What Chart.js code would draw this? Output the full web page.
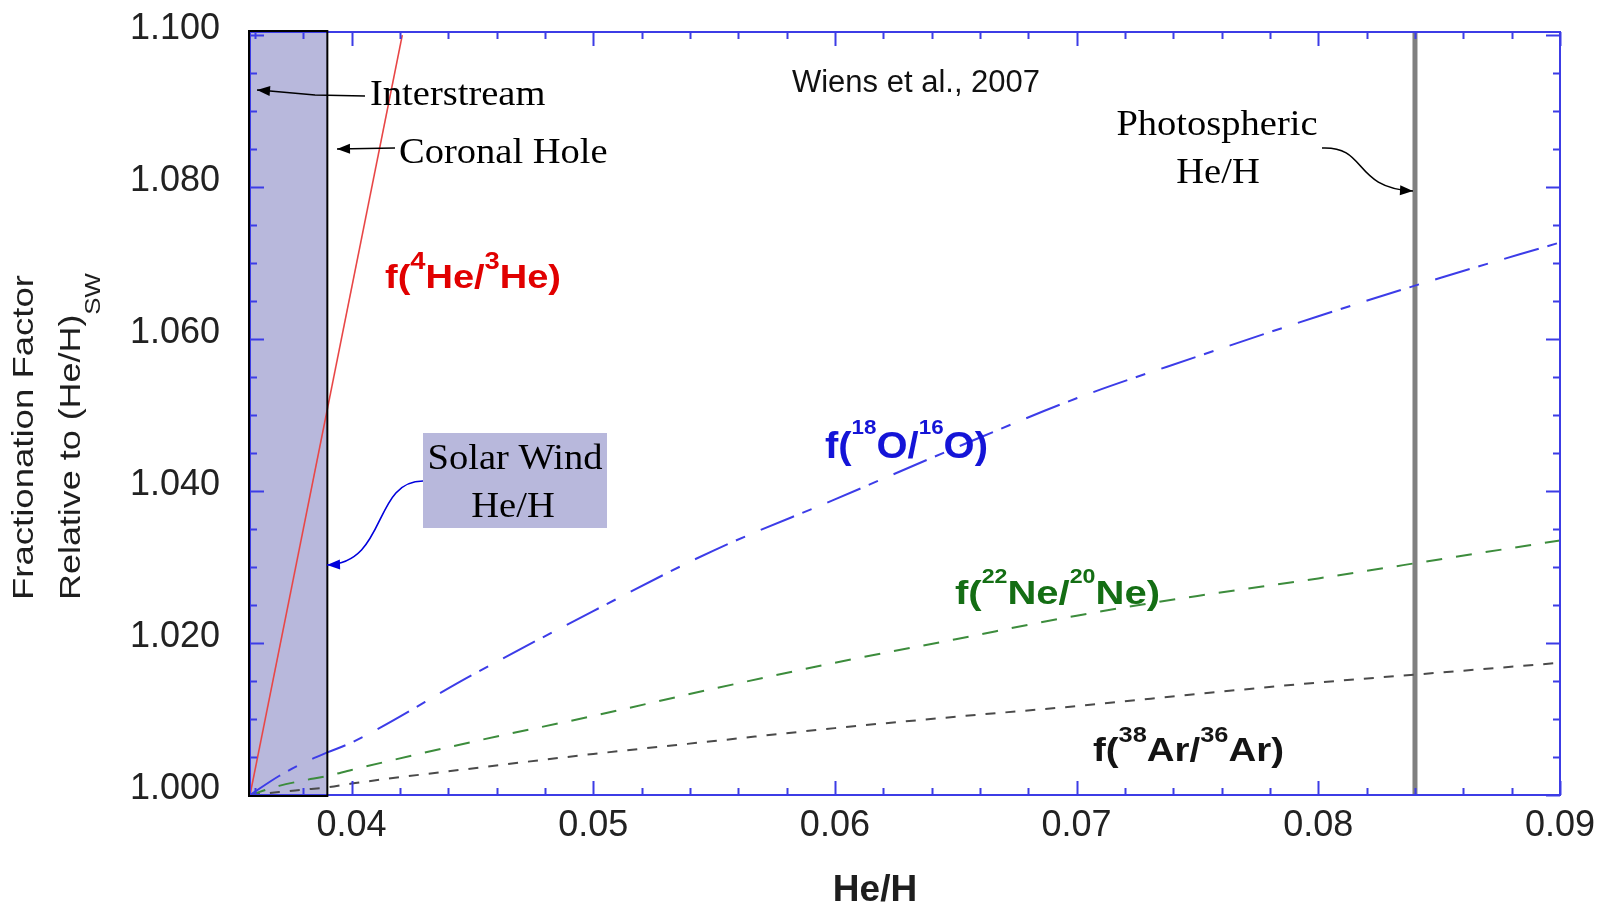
<!DOCTYPE html>
<html>
<head>
<meta charset="utf-8">
<title>Fractionation factor vs He/H</title>
<script src="https://cdn.jsdelivr.net/npm/chart.js@4.4.1/dist/chart.umd.min.js"></script>
<style>
  html, body { margin: 0; padding: 0; background: #fff; }
  canvas { display: block; }
</style>
</head>
<body>
<canvas id="chart" width="1604" height="904"></canvas>
<script>
'use strict';
/*------------------------------------*\
     Values
\*------------------------------------*/
var heH = [0.0358, 0.037, 0.038, 0.039, 0.040, 0.045, 0.050, 0.055, 0.060, 0.065, 0.070, 0.075, 0.080, 0.085, 0.090];
var fO = [1.0000, 1.0025, 1.0042, 1.0056, 1.0069, 1.0158, 1.0242, 1.0322, 1.0389, 1.0457, 1.0522, 1.0577, 1.0630, 1.0680, 1.0727];
var fNe = [1.0000, 1.0012, 1.0019, 1.0025, 1.0033, 1.0070, 1.0104, 1.0140, 1.0174, 1.0205, 1.0236, 1.0262, 1.0285, 1.0310, 1.0335];
var fAr = [1.0000, 1.0004, 1.0007, 1.0010, 1.0015, 1.0035, 1.0054, 1.0071, 1.0088, 1.0103, 1.0117, 1.0133, 1.0148, 1.0161, 1.0174];
var heHRed = [0.0358, 0.0421];
var fHe = [1.000, 1.100];

var xTicks = [0.04, 0.05, 0.06, 0.07, 0.08, 0.09];
var yTicks = [1.00, 1.02, 1.04, 1.06, 1.08, 1.10];

var solarWindRange = [0.0358, 0.039]; // shaded band
var photosphericHeH = 0.084;

/*------------------------------------*\
     Helpers
\*------------------------------------*/
function points(xs, ys) {
  return xs.map(function(x, i) { return {x: x, y: ys[i]}; });
}

// text with superscripts / subscripts, optionally stretched along its direction
function drawRich(ctx, parts, x, y, o) {
  var size = o.size;
  var family = o.family || 'Liberation Sans';
  var weight = o.weight || 'normal';
  var fonts = parts.map(function(p) {
    var s = p[1] ? size * (o.script || 0.6) : size;
    return weight + ' ' + s + 'px "' + family + '"';
  });
  var widths = parts.map(function(p, i) {
    ctx.font = fonts[i];
    return ctx.measureText(p[0]).width;
  });
  var natural = widths.reduce(function(a, b) { return a + b; }, 0);
  var sx = o.width ? o.width / natural : (o.stretch || 1);
  ctx.save();
  ctx.translate(x, y);
  if (o.rotate) ctx.rotate(o.rotate);
  ctx.scale(sx, 1);
  ctx.fillStyle = o.color || '#000';
  ctx.textBaseline = 'alphabetic';
  ctx.textAlign = 'left';
  var cx = o.align === 'center' ? -natural / 2 : 0;
  parts.forEach(function(p, i) {
    ctx.font = fonts[i];
    var dy = 0;
    if (p[1] === 'sup') dy = -size * (o.raise || 0.6);
    if (p[1] === 'sub') dy = size * (o.lower || 0.3);
    ctx.fillText(p[0], cx, dy);
    cx += widths[i];
  });
  ctx.restore();
}

// path is a polyline, or a bezier [start, cp1, cp2, tip] when curve is set
function drawArrow(ctx, path, color, curve) {
  var tip = path[path.length - 1];
  var prev = path[path.length - 2];
  var ang = Math.atan2(tip[1] - prev[1], tip[0] - prev[0]);
  ctx.save();
  ctx.strokeStyle = color;
  ctx.fillStyle = color;
  ctx.lineWidth = 1.6;
  ctx.beginPath();
  ctx.moveTo(path[0][0], path[0][1]);
  if (curve) {
    ctx.bezierCurveTo(path[1][0], path[1][1], path[2][0], path[2][1], tip[0], tip[1]);
  } else {
    for (var i = 1; i < path.length; i++) ctx.lineTo(path[i][0], path[i][1]);
  }
  ctx.stroke();
  ctx.beginPath();
  ctx.moveTo(tip[0], tip[1]);
  ctx.lineTo(tip[0] - 13 * Math.cos(ang) + 5 * Math.sin(ang), tip[1] - 13 * Math.sin(ang) - 5 * Math.cos(ang));
  ctx.lineTo(tip[0] - 13 * Math.cos(ang) - 5 * Math.sin(ang), tip[1] - 13 * Math.sin(ang) + 5 * Math.cos(ang));
  ctx.closePath();
  ctx.fill();
  ctx.restore();
}

/*------------------------------------*\
     Background marks (band, photospheric line)
\*------------------------------------*/
var backdrop = {
  id: 'backdrop',
  beforeDatasetsDraw: function(chart) {
    var ctx = chart.ctx, a = chart.chartArea;
    var xs = chart.scales.x;
    var x0 = xs.getPixelForValue(solarWindRange[0]);
    var x1 = xs.getPixelForValue(solarWindRange[1]);
    ctx.save();
    ctx.fillStyle = '#b8b8dc';
    ctx.fillRect(x0, a.top, x1 - x0, a.bottom - a.top);
    var xp = xs.getPixelForValue(photosphericHeH);
    ctx.strokeStyle = '#808080';
    ctx.lineWidth = 5;
    ctx.beginPath();
    ctx.moveTo(xp, a.top);
    ctx.lineTo(xp, a.bottom);
    ctx.stroke();
    ctx.restore();
  }
};

/*------------------------------------*\
     Frame, inner ticks, annotations
\*------------------------------------*/
var overlay = {
  id: 'overlay',
  afterDatasetsDraw: function(chart) {
    var ctx = chart.ctx, a = chart.chartArea;
    var xs = chart.scales.x, ys = chart.scales.y;
    var i, p, len;
    ctx.save();
    ctx.strokeStyle = '#3c3ce6';
    ctx.lineWidth = 2;
    ctx.strokeRect(a.left, a.top, a.right - a.left, a.bottom - a.top);
    ctx.beginPath();
    // x ticks every 0.002, long every 0.01
    for (i = 18; i <= 45; i++) {
      p = Math.round(xs.getPixelForValue(i * 0.002)) + 0.5;
      len = i % 5 === 0 ? 14 : 7;
      ctx.moveTo(p, a.bottom); ctx.lineTo(p, a.bottom - len);
      ctx.moveTo(p, a.top); ctx.lineTo(p, a.top + len);
    }
    // y ticks every 0.005, long every 0.02
    for (i = 200; i <= 220; i++) {
      p = Math.round(ys.getPixelForValue(i * 0.005)) + 0.5;
      len = i % 4 === 0 ? 14 : 7;
      ctx.moveTo(a.left, p); ctx.lineTo(a.left + len, p);
      ctx.moveTo(a.right, p); ctx.lineTo(a.right - len, p);
    }
    ctx.stroke();

    // outline of the solar wind band
    var x1 = xs.getPixelForValue(solarWindRange[1]);
    ctx.strokeStyle = '#000';
    ctx.lineWidth = 2;
    ctx.strokeRect(a.left - 1, a.top - 1, x1 - a.left + 1, a.bottom - a.top + 2);
    ctx.restore();

    var serif = {size: 36, family: 'Liberation Serif', stretch: 1.07};
    drawRich(ctx, [['Interstream']], 370, 105, serif);
    drawRich(ctx, [['Coronal Hole']], 399, 163, serif);
    drawArrow(ctx, [[365, 96], [315, 95], [270, 91], [257, 90]], '#000');
    drawArrow(ctx, [[395, 148], [337, 149]], '#000');

    drawRich(ctx, [['Photospheric']], 1217, 135, Object.assign({align: 'center'}, serif));
    drawRich(ctx, [['He/H']], 1218, 183, Object.assign({align: 'center'}, serif));
    drawArrow(ctx, [[1322, 148], [1368, 146], [1352, 188], [1413, 191]], '#000', true);

    ctx.save();
    ctx.fillStyle = '#b8b8dc';
    ctx.fillRect(423, 433, 184, 95);
    ctx.restore();
    drawRich(ctx, [['Solar Wind']], 515, 469, Object.assign({align: 'center'}, serif));
    drawRich(ctx, [['He/H']], 513, 517, Object.assign({align: 'center'}, serif));
    drawArrow(ctx, [[423, 481], [372, 481], [388, 563], [327, 565]], '#0000dc', true);

    drawRich(ctx, [['Wiens et al., 2007']], 916, 92, {size: 31, align: 'center', color: '#111'});

    drawRich(ctx, [['f('], ['4', 'sup'], ['He/'], ['3', 'sup'], ['He)']], 385, 288,
      {size: 33, weight: 'bold', width: 176, color: '#e10000', script: 0.72, raise: 0.58});
    drawRich(ctx, [['f('], ['18', 'sup'], ['O/'], ['16', 'sup'], ['O)']], 825, 458,
      {size: 37, weight: 'bold', width: 163, color: '#1414d7', script: 0.56, raise: 0.66});
    drawRich(ctx, [['f('], ['22', 'sup'], ['Ne/'], ['20', 'sup'], ['Ne)']], 955, 604,
      {size: 34, weight: 'bold', width: 205, color: '#146e14', script: 0.58, raise: 0.62});
    drawRich(ctx, [['f('], ['38', 'sup'], ['Ar/'], ['36', 'sup'], ['Ar)']], 1093, 761,
      {size: 34, weight: 'bold', width: 191, color: '#141414', script: 0.66, raise: 0.56});

    // axis titles
    drawRich(ctx, [['He/H']], 875, 901, {size: 37, weight: 'bold', align: 'center', color: '#1e1e1e'});
    drawRich(ctx, [['Fractionation Factor']], 33, 600, {size: 30, width: 325, rotate: -Math.PI / 2, color: '#1e1e1e'});
    drawRich(ctx, [['Relative to (He/H)'], ['SW', 'sub']], 80, 600,
      {size: 30, width: 327, rotate: -Math.PI / 2, color: '#1e1e1e', script: 0.72, lower: 0.66});
  }
};

/*------------------------------------*\
     Chart
\*------------------------------------*/
var lineStyle = {showLine: true, pointRadius: 0, pointHoverRadius: 0, fill: false, cubicInterpolationMode: 'monotone'};

var chart = new Chart(document.getElementById('chart').getContext('2d'), {
  type: 'scatter',
  data: {
    datasets: [
      Object.assign({label: 'f(4He/3He)', data: points(heHRed, fHe), borderColor: '#e84646', borderWidth: 1.6}, lineStyle),
      Object.assign({label: 'f(18O/16O)', data: points(heH, fO), borderColor: '#3c3ce8', borderWidth: 2, borderDash: [36, 9, 10, 17]}, lineStyle),
      Object.assign({label: 'f(22Ne/20Ne)', data: points(heH, fNe), borderColor: '#3c8c3c', borderWidth: 2, borderDash: [16, 14]}, lineStyle),
      Object.assign({label: 'f(38Ar/36Ar)', data: points(heH, fAr), borderColor: '#4a4a4a', borderWidth: 2, borderDash: [10, 10]}, lineStyle)
    ]
  },
  options: {
    responsive: false,
    animation: false,
    layout: {padding: {left: 0, top: 32, right: 44, bottom: 0}},
    plugins: {legend: {display: false}, tooltip: {enabled: false}},
    scales: {
      x: {
        type: 'linear',
        min: 0.0358,
        max: 0.09,
        grid: {display: false, drawTicks: false},
        border: {display: false},
        ticks: {
          font: {family: 'Liberation Sans', size: 36},
          color: '#222',
          padding: 9,
          maxRotation: 0,
          autoSkip: false,
          callback: function(v) { return v.toFixed(2); }
        },
        afterBuildTicks: function(scale) {
          scale.ticks = xTicks.map(function(v) { return {value: v}; });
        },
        afterFit: function(scale) {
          scale.height = 109;
          scale.paddingLeft = 0;
          scale.paddingRight = 0;
        }
      },
      y: {
        type: 'linear',
        min: 1.0,
        max: 1.1004,
        grid: {display: false, drawTicks: false},
        border: {display: false},
        ticks: {
          font: {family: 'Liberation Sans', size: 36},
          color: '#222',
          padding: 30,
          labelOffset: -6,
          autoSkip: false,
          callback: function(v) { return v.toFixed(3); }
        },
        afterBuildTicks: function(scale) {
          scale.ticks = yTicks.map(function(v) { return {value: v}; });
        },
        afterFit: function(scale) {
          scale.width = 250;
          scale.paddingTop = 0;
          scale.paddingBottom = 0;
        }
      }
    }
  },
  plugins: [backdrop, overlay]
});
</script>
</body>
</html>
